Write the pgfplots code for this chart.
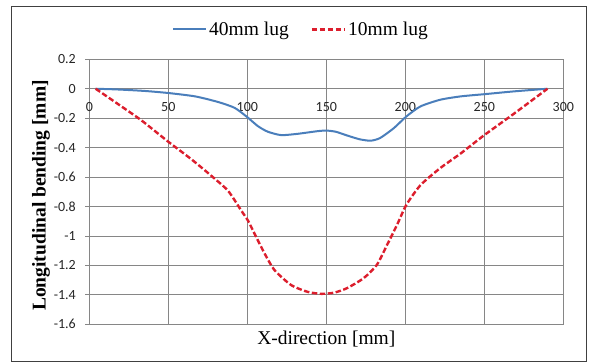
\documentclass[border=0pt]{standalone}
\usepackage{fontspec}
\setmainfont{Liberation Serif}
\newfontfamily\tickfont{Carlito}
\usepackage{pgfplots}
\pgfplotsset{compat=1.18}
\definecolor{lblue}{RGB}{74,126,187}
\definecolor{lred}{RGB}{220,30,45}
\definecolor{grd}{RGB}{134,134,134}
\begin{document}
\begin{tikzpicture}[x=1pt,y=1pt]
\path[use as bounding box] (0,0) rectangle (589,363);
\draw[black!75, line width=1pt] (11.7,1) rectangle (586.7,356.3);
\begin{axis}[
  at={(89.3pt,38.7pt)}, anchor=south west,
  scale only axis, width=474pt, height=265pt,
  xmin=0, xmax=300, ymin=-1.6, ymax=0.2,
  xtick={0,50,100,150,200,250,300},
  ytick={-1.6,-1.4,-1.2,-1,-0.8,-0.6,-0.4,-0.2,0,0.2},
  grid=major,
  major grid style={grd, line width=0.9pt},
  axis line style={grd, line width=0.9pt},
  major tick length=4pt,
  ytick pos=left,
  ytick style={grd, line width=0.9pt, xshift=-4pt},
  xtick style={draw=none},
  /pgf/number format/assume math mode=true,
  tick label style={font=\fontsize{14}{16}\tickfont, text=black!85},
  yticklabel style={inner sep=0pt, anchor=east, xshift=-13.3pt},
  xticklabel style={inner sep=0pt, anchor=center, yshift=217.6pt},
  xlabel={X-direction [mm]},
  ylabel={\bfseries Longitudinal bending [mm]},
  label style={font=\fontsize{19.5}{22}\selectfont},
  xlabel style={at={(axis description cs:0.5,-0.0555)}, anchor=center},
  ylabel style={at={(axis description cs:-0.102,0.486)}, anchor=center},
  legend style={at={(axis description cs:0.4466,1.113)}, anchor=center,
    draw=none, fill=none, font=\fontsize{19.5}{22}\selectfont,
    legend columns=2, /tikz/every even column/.append style={column sep=20pt}},
  legend image code/.code={\draw[#1] (0pt,0pt) -- (33pt,0pt);},
]
\addplot[lblue, line width=2pt, smooth, tension=0.4] coordinates {
(4,0) (18,-0.005) (35,-0.015) (50,-0.029) (67,-0.052) (81.5,-0.09) (92,-0.13)
(100,-0.193) (106.7,-0.254) (113,-0.292) (121.5,-0.315) (132,-0.306) (144.6,-0.288)
(150,-0.284) (156,-0.292) (163,-0.317) (171,-0.343) (178,-0.353) (184,-0.335)
(192.7,-0.268) (200.7,-0.188) (209.6,-0.12) (222,-0.075) (235,-0.052) (250,-0.037)
(268.7,-0.018) (290,0)
};
\addlegendentry{40mm lug}
\addplot[lred, line width=2.4pt, dash pattern=on 5.5pt off 2.5pt, smooth, tension=0.4] coordinates {
(4,0) (18.3,-0.105) (33,-0.215) (50,-0.36) (64.6,-0.479) (77.3,-0.592) (87.8,-0.693)
(96.2,-0.828) (100.4,-0.895) (104.6,-0.985) (111,-1.12) (117.3,-1.233) (127.8,-1.334)
(138.3,-1.38) (147,-1.393) (155,-1.385) (163,-1.355) (173.6,-1.287) (182,-1.196)
(188.5,-1.06) (194.8,-0.924) (200.7,-0.788) (209.6,-0.655) (222,-0.54) (235,-0.44)
(250,-0.315) (268.7,-0.17) (290,0)
};
\addlegendentry{10mm lug}
\end{axis}
\end{tikzpicture}
\end{document}
